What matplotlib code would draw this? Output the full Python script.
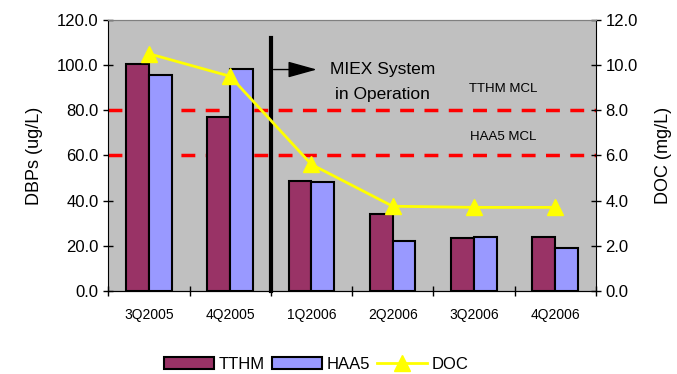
import numpy as np
import matplotlib.pyplot as plt

plt.rcParams['font.family'] = ['Liberation Sans', 'DejaVu Sans']

quarters = ['3Q2005', '4Q2005', '1Q2006', '2Q2006', '3Q2006', '4Q2006']
tthm = [100.5, 77.0, 48.8, 34.0, 23.6, 23.7]
haa5 = [95.6, 98.4, 48.4, 22.0, 23.9, 19.0]
doc = [10.5, 9.5, 5.6, 3.75, 3.7, 3.7]
tthm_mcl = 80.0
haa5_mcl = 60.0

fig = plt.figure(figsize=(6.77, 3.74), dpi=100)
ax = fig.add_axes([0.16, 0.222, 0.72, 0.725])
ax.set_facecolor('#C0C0C0')

x = np.arange(len(quarters))
w = 0.28
b1 = ax.bar(x - w / 2, tthm, w, color='#993366', edgecolor='black', linewidth=1.5, label='TTHM', zorder=3)
b2 = ax.bar(x + w / 2, haa5, w, color='#9999FF', edgecolor='black', linewidth=1.5, label='HAA5', zorder=3)

ax.axhline(tthm_mcl, color='red', ls=(0, (4, 3)), lw=2.5, zorder=2)
ax.axhline(haa5_mcl, color='red', ls=(0, (4, 3)), lw=2.5, zorder=2)
ax.text(4.36, 89.5, 'TTHM MCL', fontsize=9.5, va='center', ha='center', zorder=5)
ax.text(4.36, 68, 'HAA5 MCL', fontsize=9.5, va='center', ha='center', zorder=5)

# MIEX start marker
ax.plot([1.5, 1.5], [0, 112], color='black', lw=3, zorder=6, clip_on=False)
ax.annotate('', xy=(2.1, 98), xytext=(1.5, 98),
            arrowprops=dict(arrowstyle='-|>,head_width=0.5,head_length=1.8', color='black', lw=1), zorder=6)
ax.text(2.88, 98, 'MIEX System', fontsize=12.5, ha='center', va='center', zorder=6)
ax.text(2.88, 86.8, 'in Operation', fontsize=12.5, ha='center', va='center', zorder=6)

ax.set_xlim(-0.5, 5.5)
ax.set_ylim(0, 120)
ax.set_yticks(np.arange(0, 121, 20))
ax.set_yticklabels([f'{v:.1f}' for v in np.arange(0, 121, 20)], fontsize=12)
ax.set_ylabel('DBPs (ug/L)', fontsize=13, labelpad=10)
ax.set_xticks(x)
ax.set_xticklabels(quarters, fontsize=10)
ax.tick_params(axis='x', length=0, pad=12)
ax.set_xticks(np.arange(-0.5, 6, 1), minor=True)
ax.tick_params(axis='x', which='minor', length=7, width=1, direction='inout')
ax.tick_params(axis='y', length=7, width=1, direction='inout')
ax.spines['top'].set_color('#808080')
ax.spines['right'].set_visible(False)

ax2 = ax.twinx()
ax2.plot(x, doc, color='yellow', lw=2, marker='^', ms=11, label='DOC', zorder=4)
ax2.set_ylim(0, 12)
ax2.set_yticks(np.arange(0, 13, 2))
ax2.set_yticklabels([f'{v:.1f}' for v in np.arange(0, 13, 2)], fontsize=12)
ax2.set_ylabel('DOC (mg/L)', fontsize=13, labelpad=12)
ax2.tick_params(axis='y', length=7, width=1, direction='inout')
ax2.spines['top'].set_color('#808080')
ax2.spines['left'].set_visible(False)

handles = [b1, b2, ax2.get_lines()[0]]
fig.legend(handles, ['TTHM', 'HAA5', 'DOC'], loc='center', bbox_to_anchor=(0.467, 0.025),
           ncol=3, frameon=False, fontsize=12, handlelength=3, columnspacing=0.4, handletextpad=0.3)

fig.savefig('out.png', dpi=100)
